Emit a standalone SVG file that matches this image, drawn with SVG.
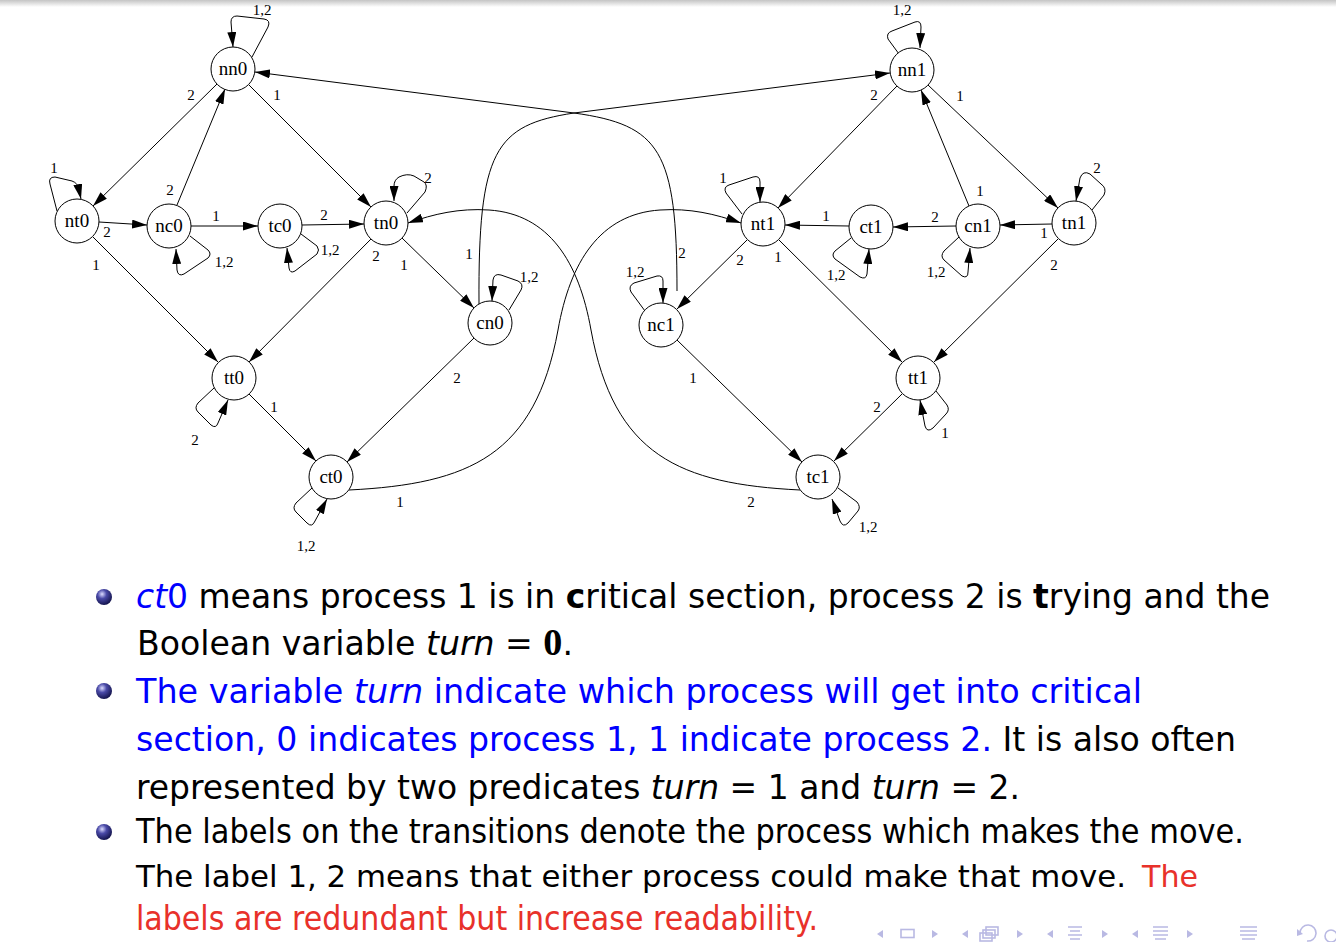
<svg xmlns="http://www.w3.org/2000/svg" width="1336" height="942" viewBox="0 0 1336 942">
<defs>
<marker id="ah" viewBox="0 0 15 9" refX="15" refY="4.5" markerWidth="15" markerHeight="9" markerUnits="userSpaceOnUse" orient="auto"><path d="M0,0 L15,4.5 L0,9 z" fill="#000"/></marker>
<linearGradient id="topg" x1="0" y1="0" x2="0" y2="1"><stop offset="0" stop-color="#c4c4c4"/><stop offset="1" stop-color="#ffffff"/></linearGradient>
<radialGradient id="ball" cx="0.38" cy="0.32" r="0.7"><stop offset="0" stop-color="#dcdcff"/><stop offset="0.4" stop-color="#4a4aa8"/><stop offset="1" stop-color="#12124a"/></radialGradient>
</defs>
<style>
.n circle{fill:#fff;stroke:#000;stroke-width:1}
.n text{font-family:"Liberation Serif",serif;font-size:19px;text-anchor:middle}
.e path{fill:none;stroke:#000;stroke-width:1;marker-end:url(#ah)}
.lb text{font-family:"Liberation Serif",serif;font-size:15px;text-anchor:middle}
.tx{font-family:"DejaVu Sans",sans-serif;font-size:33px;fill:#000}
.sm{font-size:31px}
.bl{fill:#0000ff}
.rd{fill:#e8312a}
.it{font-style:italic}
.bd{font-weight:bold}
.nav{fill:#b9b9e3}
.navs{fill:none;stroke:#b9b9e3;stroke-width:1.6}
</style>
<rect x="0" y="0" width="1336" height="942" fill="#fff"/>
<rect x="0" y="0" width="1336" height="7" fill="url(#topg)"/>

<g id="connectors" class="e">
<!-- left component -->
<path d="M252,57 L268,27 Q271,20 264,19 L237,16 Q231,16 231,22 L233,47"/>
<path d="M217,84 L93,206"/>
<path d="M177,205 L225,89"/>
<path d="M249,85 L371,207"/>
<path d="M57,211 L50,184 Q48,177 55,177 L72,181 Q78,183 79,190 L81,199"/>
<path d="M99,222 L147,225"/>
<path d="M93,237 L218,362"/>
<path d="M190,236 L208,250 Q212,254 208,258 L184,274 Q178,277 177,270 L176,249"/>
<path d="M191,226 L258,226"/>
<path d="M301,234 L317,246 Q320,250 317,254 L295,271 Q290,274 289,268 L287,248"/>
<path d="M302,225 L364,224"/>
<path d="M407,213 L425,192 Q428,185 424,182 L414,176 Q407,173 399,177 Q394,180 394,186 L394,201"/>
<path d="M371,239 L249,362"/>
<path d="M402,238 L474,308"/>
<path d="M509,310 L521,290 Q524,284 518,281 L501,275 Q494,273 493,280 L492,301"/>
<path d="M474,338 L347,462"/>
<path d="M479,304 C478,150 495,125 574,113 L890,73"/>
<path d="M677,291 C677,150 660,125 574,113 L255,72"/>
<path d="M214,388 L198,403 Q194,408 198,412 L211,425 Q216,429 218,423 L228,400"/>
<path d="M249,394 L316,461"/>
<path d="M312,488 L296,503 Q292,508 296,512 L307,523 Q312,528 315,521 L327,499"/>
<path d="M349,490 C470,484 535,455 558,330 C570,262 600,214 660,210 C690,208 715,214 741,223"/>
<path d="M800,490 C679,484 614,455 591,330 C579,262 549,214 489,210 C459,208 434,214 408,223"/>
<!-- right component -->
<path d="M899,54 L888,39 Q886,33 892,31 L915,22 Q921,20 921,27 L920,48"/>
<path d="M897,86 L778,208"/>
<path d="M928,85 L1058,208"/>
<path d="M969,206 L921,90"/>
<path d="M742,214 L726,193 Q723,187 729,185 L753,177 Q760,175 760,182 L760,202"/>
<path d="M849,226 L785,225"/>
<path d="M851,238 L835,251 Q831,255 835,259 L860,277 Q866,280 867,274 L869,249"/>
<path d="M956,226 L893,227"/>
<path d="M959,237 L944,251 Q940,256 944,260 L962,276 Q968,279 968,272 L970,248"/>
<path d="M1052,224 L1000,225"/>
<path d="M1092,210 L1104,195 Q1107,188 1101,184 L1090,174 Q1083,170 1080,178 L1076,201"/>
<path d="M1058,239 L934,362"/>
<path d="M747,240 L677,309"/>
<path d="M779,240 L902,362"/>
<path d="M645,311 L631,292 Q628,286 634,283 L657,276 Q663,275 663,281 L663,303"/>
<path d="M677,340 L802,462"/>
<path d="M936,391 L947,405 Q950,410 946,414 L933,428 Q927,433 925,426 L920,400"/>
<path d="M902,394 L834,461"/>
<path d="M838,488 L857,502 Q861,507 858,511 L848,523 Q843,528 840,521 L832,499"/>
</g>

<g id="edge-labels" class="lb">
<text x="262" y="15">1,2</text>
<text x="191" y="100">2</text>
<text x="277" y="100">1</text>
<text x="170" y="195">2</text>
<text x="54" y="173">1</text>
<text x="107" y="237">2</text>
<text x="96" y="270">1</text>
<text x="224" y="267">1,2</text>
<text x="216" y="221">1</text>
<text x="330" y="255">1,2</text>
<text x="324" y="220">2</text>
<text x="428" y="183">2</text>
<text x="376" y="261">2</text>
<text x="404" y="270">1</text>
<text x="529" y="282">1,2</text>
<text x="469" y="259">1</text>
<text x="457" y="383">2</text>
<text x="682" y="258">2</text>
<text x="195" y="445">2</text>
<text x="274" y="412">1</text>
<text x="306" y="551">1,2</text>
<text x="400" y="507">1</text>
<text x="751" y="507">2</text>
<text x="902" y="15">1,2</text>
<text x="874" y="100">2</text>
<text x="960" y="101">1</text>
<text x="980" y="196">1</text>
<text x="723" y="183">1</text>
<text x="826" y="221">1</text>
<text x="836" y="280">1,2</text>
<text x="935" y="222">2</text>
<text x="936" y="277">1,2</text>
<text x="1044" y="238">1</text>
<text x="1097" y="173">2</text>
<text x="1054" y="270">2</text>
<text x="740" y="265">2</text>
<text x="778" y="262">1</text>
<text x="635" y="277">1,2</text>
<text x="693" y="383">1</text>
<text x="945" y="438">1</text>
<text x="877" y="412">2</text>
<text x="868" y="532">1,2</text>
</g>

<g id="nn0" class="n"><circle cx="233" cy="69" r="22"/><text x="233" y="75">nn0</text></g>
<g id="nt0" class="n"><circle cx="77" cy="221" r="22"/><text x="77" y="227">nt0</text></g>
<g id="nc0" class="n"><circle cx="169" cy="226" r="22"/><text x="169" y="232">nc0</text></g>
<g id="tc0" class="n"><circle cx="280" cy="226" r="22"/><text x="280" y="232">tc0</text></g>
<g id="tn0" class="n"><circle cx="386" cy="223" r="22"/><text x="386" y="229">tn0</text></g>
<g id="cn0" class="n"><circle cx="490" cy="323" r="22"/><text x="490" y="329">cn0</text></g>
<g id="tt0" class="n"><circle cx="234" cy="378" r="22"/><text x="234" y="384">tt0</text></g>
<g id="ct0" class="n"><circle cx="331" cy="477" r="22"/><text x="331" y="483">ct0</text></g>
<g id="nn1" class="n"><circle cx="912" cy="70" r="22"/><text x="912" y="76">nn1</text></g>
<g id="nt1" class="n"><circle cx="763" cy="224" r="22"/><text x="763" y="230">nt1</text></g>
<g id="ct1" class="n"><circle cx="871" cy="227" r="22"/><text x="871" y="233">ct1</text></g>
<g id="cn1" class="n"><circle cx="978" cy="226" r="22"/><text x="978" y="232">cn1</text></g>
<g id="tn1" class="n"><circle cx="1074" cy="223" r="22"/><text x="1074" y="229">tn1</text></g>
<g id="nc1" class="n"><circle cx="661" cy="325" r="22"/><text x="661" y="331">nc1</text></g>
<g id="tt1" class="n"><circle cx="918" cy="378" r="22"/><text x="918" y="384">tt1</text></g>
<g id="tc1" class="n"><circle cx="818" cy="477" r="22"/><text x="818" y="483">tc1</text></g>

<g id="bullets">
<circle cx="104" cy="597" r="8" fill="url(#ball)"/>
<circle cx="104" cy="691" r="8" fill="url(#ball)"/>
<circle cx="104" cy="832" r="8" fill="url(#ball)"/>
</g>

<g id="text">
<text class="tx" x="136" y="608" textLength="1134" lengthAdjust="spacingAndGlyphs"><tspan class="bl"><tspan class="it">ct</tspan>0</tspan> means process 1 is in <tspan class="bd">c</tspan>ritical section, process 2 is <tspan class="bd">t</tspan>rying and the</text>
<text class="tx" x="137" y="655" textLength="436" lengthAdjust="spacingAndGlyphs">Boolean variable <tspan class="it">turn</tspan> = <tspan class="bd" font-family="Liberation Serif, serif" font-size="38">0</tspan>.</text>
<text class="tx bl" x="136" y="703" textLength="1006" lengthAdjust="spacingAndGlyphs">The variable <tspan class="it">turn</tspan> indicate which process will get into critical</text>
<text class="tx" x="136" y="751" textLength="1100" lengthAdjust="spacingAndGlyphs"><tspan class="bl">section, 0 indicates process 1, 1 indicate process 2.</tspan> It is also often</text>
<text class="tx" x="136" y="799" textLength="884" lengthAdjust="spacingAndGlyphs">represented by two predicates <tspan class="it">turn</tspan> = 1 and <tspan class="it">turn</tspan> = 2.</text>
<text class="tx" x="136" y="843" textLength="1108" lengthAdjust="spacingAndGlyphs">The labels on the transitions denote the process which makes the move.</text>
<text class="tx sm" x="136" y="887" textLength="990" lengthAdjust="spacingAndGlyphs">The label 1, 2 means that either process could make that move.</text>
<text class="tx sm rd" x="1142" y="887" textLength="56" lengthAdjust="spacingAndGlyphs">The</text>
<text class="tx rd" x="136" y="930" textLength="682" lengthAdjust="spacingAndGlyphs">labels are redundant but increase readability.</text>
</g>

<g id="navigation">
<polygon class="nav" points="883,930 877,934 883,938"/>
<rect class="navs" x="901" y="929.5" width="13" height="8"/>
<polygon class="nav" points="932,930 938,934 932,938"/>
<polygon class="nav" points="968,930 962,934 968,938"/>
<rect class="navs" x="986" y="927" width="12" height="8" fill="#fff"/>
<rect class="navs" x="983" y="930" width="12" height="8" fill="#fff"/>
<rect class="navs" x="980" y="933" width="12" height="8" fill="#fff"/>
<polygon class="nav" points="1017,930 1023,934 1017,938"/>
<polygon class="nav" points="1053,930 1047,934 1053,938"/>
<path class="navs" d="M1068,927 H1082 M1070,931 H1080 M1068,935 H1082 M1070,939 H1080"/>
<polygon class="nav" points="1102,930 1108,934 1102,938"/>
<polygon class="nav" points="1138,930 1132,934 1138,938"/>
<path class="navs" d="M1153,927 H1168 M1153,931 H1168 M1153,935 H1168 M1155,939 H1166"/>
<polygon class="nav" points="1187,930 1193,934 1187,938"/>
<path class="navs" d="M1240,927 H1257 M1240,931 H1257 M1240,935 H1257 M1242,939 H1255"/>
<path class="navs" d="M1300,933 A8,8 0 1 1 1307,941"/>
<polygon class="nav" points="1297,929 1303,934 1297,936"/>
<circle class="navs" cx="1331" cy="936" r="6"/>
</g>
</svg>
